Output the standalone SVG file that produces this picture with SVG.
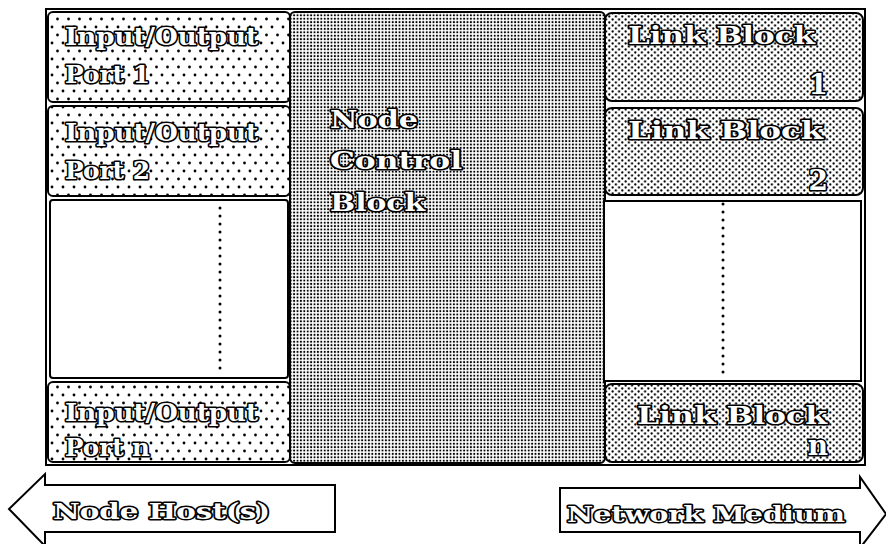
<svg xmlns="http://www.w3.org/2000/svg" width="886" height="544" viewBox="0 0 886 544">
<defs>
<pattern id="pSparse" width="11" height="16" patternUnits="userSpaceOnUse">
<rect width="11" height="16" fill="#fff"/>
<circle cx="2.5" cy="3" r="1.4" fill="#000"/>
<circle cx="8" cy="11" r="1.4" fill="#000"/>
</pattern>
<pattern id="pMed" width="6.5" height="6" patternUnits="userSpaceOnUse">
<rect width="6.5" height="6" fill="#fff"/>
<circle cx="1.6" cy="1.5" r="1.15" fill="#000"/>
<circle cx="4.85" cy="4.5" r="1.15" fill="#000"/>
</pattern>
<pattern id="pDense" width="3.4" height="3.4" patternUnits="userSpaceOnUse">
<rect width="3.4" height="3.4" fill="#fff"/>
<circle cx="1.7" cy="1.7" r="1.05" fill="#000"/>
</pattern>
</defs>
<style>
.box{stroke:#000;stroke-width:2}
.lbl{font-family:"DejaVu Serif","Liberation Serif",serif;font-weight:bold;font-size:25px;fill:#fff;stroke:#000;stroke-width:3.2;paint-order:stroke;stroke-linejoin:round}
.num{font-size:28px}
.albl{font-family:"DejaVu Serif","Liberation Serif",serif;font-weight:bold;font-size:23px;fill:#fff;stroke:#000;stroke-width:3;paint-order:stroke;stroke-linejoin:round}
.dots{stroke:#000;stroke-width:3;stroke-dasharray:0 8;stroke-linecap:round;fill:none}
.arrow{fill:#fff;stroke:#000;stroke-width:2}
</style>
<rect x="46" y="9" width="819" height="456" fill="#fff" stroke="#000" stroke-width="2"/>
<g id="port1">
<rect class="box" x="48" y="12" width="242" height="90" rx="5" fill="url(#pSparse)"/>
<text class="lbl" x="65" y="45" textLength="193" lengthAdjust="spacingAndGlyphs">Input/Output</text>
<text class="lbl" x="65" y="83" textLength="85" lengthAdjust="spacingAndGlyphs">Port 1</text>
</g>
<g id="port2">
<rect class="box" x="48" y="106" width="242" height="90" rx="5" fill="url(#pSparse)"/>
<text class="lbl" x="65" y="141" textLength="193" lengthAdjust="spacingAndGlyphs">Input/Output</text>
<text class="lbl" x="65" y="179" textLength="85" lengthAdjust="spacingAndGlyphs">Port 2</text>
</g>
<g id="portgap">
<rect class="box" x="50" y="200" width="238" height="178" rx="3" fill="#fff"/>
<line class="dots" x1="220" y1="208" x2="220" y2="370"/>
</g>
<g id="portn">
<rect class="box" x="48" y="382" width="242" height="80" rx="5" fill="url(#pSparse)"/>
<text class="lbl" x="65" y="421" textLength="193" lengthAdjust="spacingAndGlyphs">Input/Output</text>
<text class="lbl" x="65" y="456" textLength="85" lengthAdjust="spacingAndGlyphs">Port n</text>
</g>
<g id="control">
<rect class="box" x="290" y="12" width="315" height="451" rx="5" fill="url(#pDense)"/>
<text class="lbl" x="330" y="128" textLength="88" lengthAdjust="spacingAndGlyphs">Node</text>
<text class="lbl" x="330" y="169" textLength="132" lengthAdjust="spacingAndGlyphs">Control</text>
<text class="lbl" x="330" y="211" textLength="95" lengthAdjust="spacingAndGlyphs">Block</text>
</g>
<g id="link1">
<rect class="box" x="605" y="13" width="258" height="88" rx="7" fill="url(#pMed)"/>
<text class="lbl" x="628" y="44" textLength="187" lengthAdjust="spacingAndGlyphs">Link Block</text>
<text class="lbl num" x="828" y="94" text-anchor="end">1</text>
</g>
<g id="link2">
<rect class="box" x="605" y="108" width="258" height="87" rx="7" fill="url(#pMed)"/>
<text class="lbl" x="628" y="139" textLength="195" lengthAdjust="spacingAndGlyphs">Link Block</text>
<text class="lbl num" x="828" y="190" text-anchor="end">2</text>
</g>
<g id="linkgap">
<rect class="box" x="604" y="201" width="257" height="180" fill="#fff"/>
<line class="dots" x1="723" y1="204" x2="723" y2="378"/>
</g>
<g id="linkn">
<rect class="box" x="605" y="384" width="258" height="78" rx="7" fill="url(#pMed)"/>
<text class="lbl" x="637" y="424" textLength="190" lengthAdjust="spacingAndGlyphs">Link Block</text>
<text class="lbl num" x="828" y="455" text-anchor="end">n</text>
</g>
<g id="connectors">
<g id="hostArrow">
<path class="arrow" d="M335,485 L45,485 L45,474 L9,509 L45,546 L45,532 L335,532 Z"/>
<text class="albl" x="53" y="519" textLength="217" lengthAdjust="spacingAndGlyphs">Node Host(s)</text>
</g>
<g id="networkArrow">
<path class="arrow" d="M560,488 L860,488 L860,477 L886,514 L860,548 L860,532 L560,532 Z"/>
<text class="albl" x="567" y="522" textLength="278" lengthAdjust="spacingAndGlyphs">Network Medium</text>
</g>
</g>
</svg>
